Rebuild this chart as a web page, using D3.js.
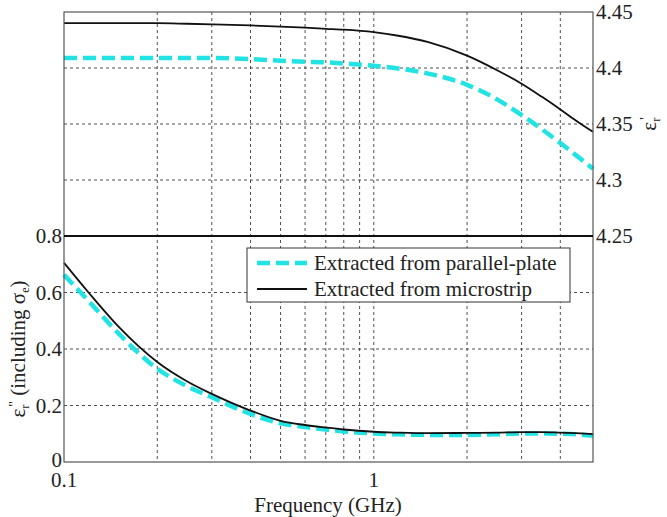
<!DOCTYPE html>
<html>
<head>
<meta charset="utf-8">
<script src="https://cdn.jsdelivr.net/npm/d3@7"></script>
<style>
	body { margin: 0; background: #fff; }
	svg { font-family: "Liberation Serif", "Times New Roman", serif; }
	.grid line { stroke: #222; stroke-width: 0.8; stroke-dasharray: 3,3; }
	.tick-label { font-size: 21px; fill: #222; }
</style>
</head>
<body>
<svg id="chart" width="667" height="517"></svg>
<script>
// frequency samples (GHz)
var freq = [0.1, 0.12, 0.15, 0.2, 0.25, 0.3, 0.4, 0.5, 0.6, 0.7, 0.8, 1, 1.2, 1.5, 2, 2.5, 3, 3.5, 4, 4.5, 5.1];

// real part eps_r'
var realParallel = [4.409, 4.409, 4.409, 4.409, 4.409, 4.409, 4.408, 4.4065, 4.4055, 4.405, 4.404, 4.402, 4.3995, 4.395, 4.385, 4.372, 4.358, 4.345, 4.333, 4.322, 4.310];
var realMicrostrip = [4.440, 4.440, 4.440, 4.440, 4.4395, 4.439, 4.438, 4.437, 4.436, 4.435, 4.4342, 4.432, 4.4288, 4.423, 4.411, 4.398, 4.386, 4.374, 4.363, 4.353, 4.343];

// imaginary part eps_r'' (including sigma_e)
var imagParallel = [0.663, 0.57, 0.455, 0.330, 0.268, 0.229, 0.170, 0.137, 0.124, 0.115, 0.108, 0.101, 0.098, 0.096, 0.096, 0.098, 0.101, 0.101, 0.100, 0.098, 0.093];
var imagMicrostrip = [0.705, 0.60, 0.479, 0.354, 0.285, 0.241, 0.182, 0.146, 0.131, 0.122, 0.115, 0.107, 0.104, 0.102, 0.103, 0.104, 0.106, 0.106, 0.104, 0.102, 0.099];

var realTicks = [4.25, 4.3, 4.35, 4.4, 4.45];
var imagTicks = [0, 0.2, 0.4, 0.6, 0.8];
var xMajor = [0.1, 1];
var xGrid = [0.2, 0.3, 0.4, 0.5, 0.6, 0.7, 0.8, 0.9, 1, 2, 3, 4];

var legendNames = ['Extracted from parallel-plate', 'Extracted from microstrip'];

var cyan = '#22e3e3';

var svg = d3.select('#chart');
var pLeft = 64, pRight = 593, pTop = 12, pMid = 236, pBottom = 462;

var x = d3.scaleLog().domain([0.1, 5.1]).range([pLeft, pRight]);
var yTop = d3.scaleLinear().domain([4.25, 4.45]).range([pMid, pTop]);
var yBot = d3.scaleLinear().domain([0, 0.8]).range([pBottom, pMid]);

// grid
var grid = svg.append('g').attr('class', 'grid');
grid.selectAll('.vgrid')
	.data(xGrid)
	.enter()
	.append('line')
	.attr('x1', function(d){ return x(d) })
	.attr('x2', function(d){ return x(d) })
	.attr('y1', pTop)
	.attr('y2', pBottom);
grid.selectAll('.hgrid-top')
	.data(realTicks.slice(1, -1))
	.enter()
	.append('line')
	.attr('x1', pLeft).attr('x2', pRight)
	.attr('y1', function(d){ return yTop(d) })
	.attr('y2', function(d){ return yTop(d) });
grid.selectAll('.hgrid-bot')
	.data(imagTicks.slice(1, -1))
	.enter()
	.append('line')
	.attr('x1', pLeft).attr('x2', pRight)
	.attr('y1', function(d){ return yBot(d) })
	.attr('y2', function(d){ return yBot(d) });

// curves
var lineTop = d3.line()
	.x(function(d){ return x(d[0]) })
	.y(function(d){ return yTop(d[1]) })
	.curve(d3.curveMonotoneX);
var lineBot = d3.line()
	.x(function(d){ return x(d[0]) })
	.y(function(d){ return yBot(d[1]) })
	.curve(d3.curveMonotoneX);

function pairs(vals){ return freq.map(function(f, i){ return [f, vals[i]] }) }

svg.append('path')
	.attr('d', lineTop(pairs(realParallel)))
	.attr('fill', 'none').attr('stroke', cyan)
	.attr('stroke-width', 4.5).attr('stroke-dasharray', '13,6');
svg.append('path')
	.attr('d', lineTop(pairs(realMicrostrip)))
	.attr('fill', 'none').attr('stroke', '#111').attr('stroke-width', 1.8);
svg.append('path')
	.attr('d', lineBot(pairs(imagParallel)))
	.attr('fill', 'none').attr('stroke', cyan)
	.attr('stroke-width', 4.5).attr('stroke-dasharray', '13,6');
svg.append('path')
	.attr('d', lineBot(pairs(imagMicrostrip)))
	.attr('fill', 'none').attr('stroke', '#111').attr('stroke-width', 1.8);

// frames
svg.append('rect')
	.attr('x', pLeft).attr('y', pTop)
	.attr('width', pRight - pLeft).attr('height', pBottom - pTop)
	.attr('fill', 'none').attr('stroke', '#555').attr('stroke-width', 1.2);
svg.append('line')
	.attr('x1', pLeft).attr('x2', pRight)
	.attr('y1', pMid).attr('y2', pMid)
	.attr('stroke', '#111').attr('stroke-width', 2);

// tick labels
svg.selectAll('.rtick')
	.data(realTicks)
	.enter()
	.append('text')
	.attr('class', 'tick-label')
	.attr('x', pRight + 3)
	.attr('y', function(d){ return yTop(d) + 7 })
	.text(function(d){ return d3.format('')(d) });
svg.selectAll('.ltick')
	.data(imagTicks)
	.enter()
	.append('text')
	.attr('class', 'tick-label')
	.attr('text-anchor', 'end')
	.attr('x', pLeft - 2)
	.attr('y', function(d){ return yBot(d) + (d == 0 ? 5 : 7) })
	.text(function(d){ return d3.format('')(d) });
svg.selectAll('.xtick')
	.data(xMajor)
	.enter()
	.append('text')
	.attr('class', 'tick-label')
	.attr('text-anchor', 'middle')
	.attr('x', function(d){ return x(d) })
	.attr('y', pBottom + 25)
	.text(function(d){ return d3.format('')(d) });

// axis titles
svg.append('text')
	.attr('class', 'tick-label')
	.attr('text-anchor', 'middle')
	.attr('x', 328)
	.attr('y', 512)
	.text('Frequency (GHz)');

var rl = svg.append('text')
	.attr('class', 'tick-label')
	.attr('text-anchor', 'middle')
	.attr('transform', 'translate(656,' + (pTop + pMid) / 2 + ') rotate(-90)');
rl.append('tspan').text('ε');
rl.append('tspan').attr('font-size', 12).attr('dy', 4).text('r');
rl.append('tspan').attr('font-size', 14).attr('dx', -2).attr('dy', -10).text("'");

var ll = svg.append('text')
	.attr('class', 'tick-label')
	.attr('text-anchor', 'middle')
	.attr('transform', 'translate(25,' + (pMid + pBottom) / 2 + ') rotate(-90)');
ll.append('tspan').text('ε');
ll.append('tspan').attr('font-size', 12).attr('dy', 4).text('r');
ll.append('tspan').attr('font-size', 14).attr('dx', -2).attr('dy', -10).text('"');
ll.append('tspan').attr('dy', 6).text(' (including σ');
ll.append('tspan').attr('font-size', 12).attr('dy', 4).text('e');
ll.append('tspan').attr('dy', -4).text(')');

// legend
var lg = svg.append('g');
lg.append('rect')
	.attr('x', 247).attr('y', 248)
	.attr('width', 323).attr('height', 54)
	.attr('fill', '#fff').attr('stroke', '#333').attr('stroke-width', 1);
var items = lg.selectAll('.legend-item')
	.data(legendNames)
	.enter()
	.append('g')
	.attr('transform', function(d, i){ return 'translate(0,' + (263 + i * 26) + ')' });
items.append('line')
	.attr('x1', 257).attr('x2', 307)
	.attr('y1', 0).attr('y2', 0)
	.attr('stroke', function(d, i){ return i == 0 ? cyan : '#111' })
	.attr('stroke-width', function(d, i){ return i == 0 ? 4.5 : 1.8 })
	.attr('stroke-dasharray', function(d, i){ return i == 0 ? '13,6' : null });
items.append('text')
	.attr('class', 'tick-label')
	.attr('x', 314)
	.attr('y', 7)
	.text(function(d){ return d });
</script>
</body>
</html>
